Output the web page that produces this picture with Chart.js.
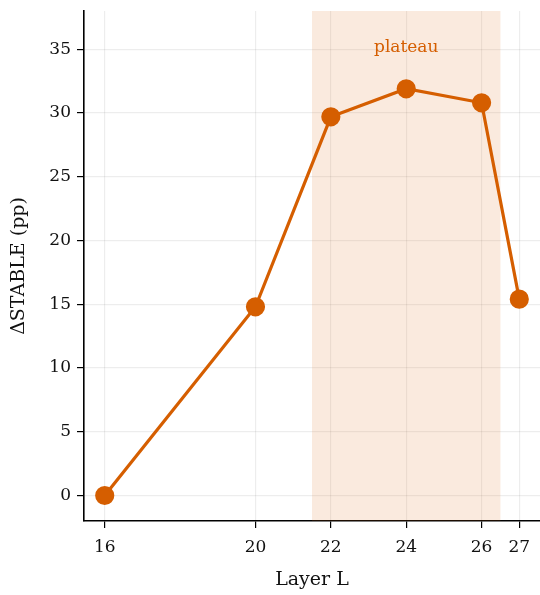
<!DOCTYPE html>
<html>
<head>
<meta charset="utf-8">
<script src="https://cdn.jsdelivr.net/npm/chart.js@4/dist/chart.umd.min.js"></script>
<style>
  body { margin: 0; background: #fff; }
  canvas { display: block; }
</style>
</head>
<body>
<canvas id="layerchart" width="540" height="595"></canvas>
<script>
var layers = [16, 20, 22, 24, 26, 27];
var deltaStable = [0, 14.8, 29.7, 31.9, 30.8, 15.4];
var plateauRange = [21.5, 26.5];
var plateauLabel = "plateau";

var orange = "#D55E00";
var serif = "'DejaVu Serif', serif";

var plateauPlugin = {
    id: "plateau",
    beforeDatasetsDraw: function(chart) {
        var ctx = chart.ctx, xs = chart.scales.x, ys = chart.scales.y, area = chart.chartArea;
        var x0 = xs.getPixelForValue(plateauRange[0]);
        var x1 = xs.getPixelForValue(plateauRange[1]);
        ctx.save();
        ctx.fillStyle = "rgba(213, 94, 0, 0.13)";
        ctx.fillRect(x0, area.top, x1 - x0, area.bottom - area.top);
        ctx.fillStyle = orange;
        ctx.font = "17px " + serif;
        ctx.textAlign = "center";
        ctx.textBaseline = "middle";
        ctx.fillText(plateauLabel, xs.getPixelForValue(24), ys.getPixelForValue(35.1));
        ctx.restore();
    }
};

var chart = new Chart(document.getElementById("layerchart").getContext("2d"), {
    type: "line",
    data: {
        datasets: [{
            data: layers.map(function(l, i) { return {x: l, y: deltaStable[i]}; }),
            borderColor: orange,
            backgroundColor: orange,
            borderWidth: 3.2,
            pointRadius: 8,
            pointHoverRadius: 8,
            tension: 0,
            clip: false
        }]
    },
    options: {
        responsive: false,
        animation: false,
        layout: { autoPadding: false, padding: { top: 11, right: 0, left: 0, bottom: 0 } },
        plugins: { legend: { display: false }, tooltip: { enabled: false } },
        scales: {
            x: {
                type: "linear",
                min: 15.45,
                max: 27.55,
                afterBuildTicks: function(axis) {
                    axis.ticks = layers.map(function(v) { return {value: v}; });
                },
                afterFit: function(axis) {
                    axis.height = 74;
                    axis.paddingLeft = 0;
                    axis.paddingRight = 0;
                },
                grid: { color: "rgba(0,0,0,0.07)", tickColor: "#000", tickLength: 7, lineWidth: 1.2 },
                border: { color: "#000", width: 1.6 },
                ticks: { color: "#111", font: { family: serif, size: 17 }, padding: 9, autoSkip: false, maxRotation: 0 },
                title: { display: true, text: "Layer L", color: "#111", font: { family: serif, size: 19 }, padding: { top: 4 } }
            },
            y: {
                min: -2,
                max: 38,
                afterBuildTicks: function(axis) {
                    var t = [];
                    for (var v = 0; v <= 35; v += 5) t.push({value: v});
                    axis.ticks = t;
                },
                afterFit: function(axis) {
                    axis.width = 84;
                    axis.paddingTop = 0;
                    axis.paddingBottom = 0;
                },
                grid: { color: "rgba(0,0,0,0.07)", tickColor: "#000", tickLength: 7, lineWidth: 1.2 },
                border: { color: "#000", width: 1.6 },
                ticks: { color: "#111", font: { family: serif, size: 17 }, padding: 6 },
                title: { display: true, text: "\u0394STABLE (pp)", color: "#111", font: { family: serif, size: 19 }, padding: { top: 8, bottom: 2 } }
            }
        }
    },
    plugins: [plateauPlugin]
});
</script>
</body>
</html>
